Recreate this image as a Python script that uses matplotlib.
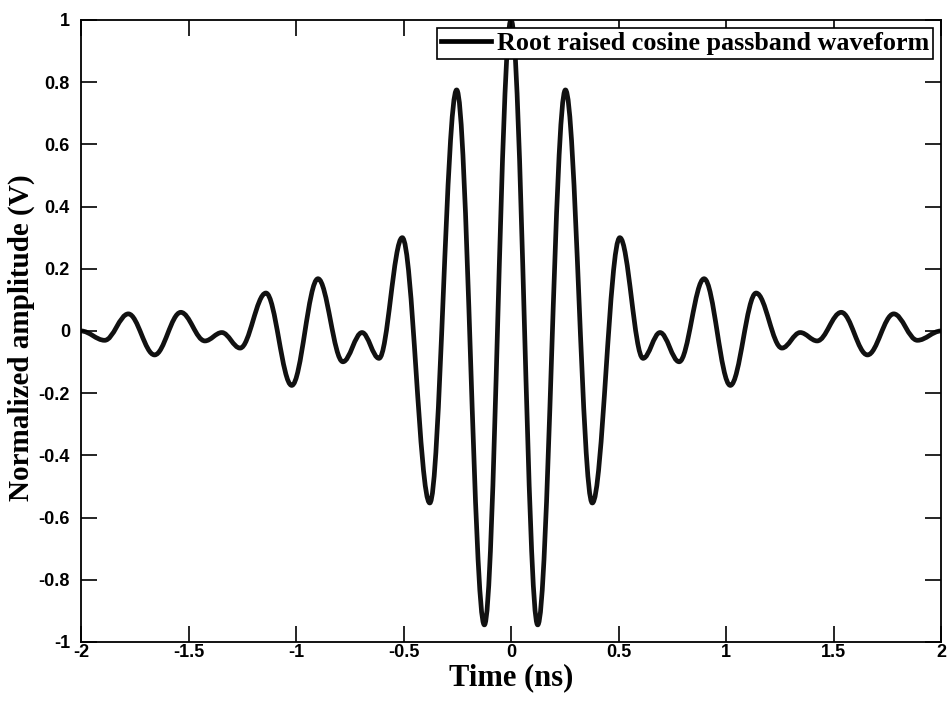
import matplotlib
matplotlib.use('Agg')
import matplotlib.pyplot as plt
from matplotlib.path import Path
from matplotlib.patches import PathPatch
from matplotlib.lines import Line2D

# extrema of the waveform (time in ns, amplitude in V)
peak_times = [-2.0, -1.89, -1.78, -1.658, -1.536, -1.424, -1.345, -1.26, -1.14, -1.02,
              -0.898, -0.782, -0.693, -0.614, -0.506, -0.378, -0.253, -0.124, 0.0,
              0.124, 0.253, 0.378, 0.506, 0.614, 0.693, 0.782, 0.898, 1.02, 1.14,
              1.26, 1.345, 1.424, 1.536, 1.658, 1.78, 1.89, 2.0]
peak_values = [0.0, -0.03, 0.055, -0.077, 0.06, -0.032, -0.005, -0.055, 0.122, -0.175,
               0.168, -0.099, -0.005, -0.088, 0.30, -0.553, 0.775, -0.945, 1.0,
               -0.945, 0.775, -0.553, 0.30, -0.088, -0.005, -0.099, 0.168, -0.175, 0.122,
               -0.055, -0.005, -0.032, 0.06, -0.077, 0.055, -0.03, 0.0]

x_ticks = [-2, -1.5, -1, -0.5, 0, 0.5, 1, 1.5, 2]
x_tick_labels = ['-2', '-1.5', '-1', '-0.5', '0', '0.5', '1', '1.5', '2']
y_ticks = [-1, -0.8, -0.6, -0.4, -0.2, 0, 0.2, 0.4, 0.6, 0.8, 1]
y_tick_labels = ['-1', '-0.8', '-0.6', '-0.4', '-0.2', '0', '0.2', '0.4', '0.6', '0.8', '1']

legend_label = 'Root raised cosine passband waveform'


def smooth_path(xs, ys, k=0.363):
    # cubic bezier between neighbouring extrema, flat tangent at each extremum
    verts = [(xs[0], ys[0])]
    codes = [Path.MOVETO]
    for i in range(len(xs) - 1):
        dx = xs[i + 1] - xs[i]
        verts += [(xs[i] + k * dx, ys[i]), (xs[i + 1] - k * dx, ys[i + 1]), (xs[i + 1], ys[i + 1])]
        codes += [Path.CURVE4] * 3
    return Path(verts, codes)


fig = plt.figure(figsize=(9.49, 7.13), dpi=100)
ax = fig.add_axes([0.0854, 0.0996, 0.9062, 0.8724])

ax.add_patch(PathPatch(smooth_path(peak_times, peak_values), facecolor='none',
                       edgecolor='#111111', linewidth=3.4, capstyle='round', joinstyle='round'))

ax.set_xlim(-2, 2)
ax.set_ylim(-1, 1)
ax.set_xticks(x_ticks)
ax.set_xticklabels(x_tick_labels)
ax.set_yticks(y_ticks)
ax.set_yticklabels(y_tick_labels)
ax.tick_params(direction='in', length=11.5, width=1.2, top=True, right=True)
ax.tick_params(axis='x', pad=1.5)
ax.tick_params(axis='y', pad=8)
for lbl in ax.get_xticklabels() + ax.get_yticklabels():
    lbl.set_fontfamily('Liberation Sans')
    lbl.set_fontweight('bold')
    lbl.set_fontsize(13)
for sp in ax.spines.values():
    sp.set_linewidth(1.3)

ax.set_xlabel('Time (ns)', fontfamily='Liberation Serif', fontweight='bold', fontsize=22)
ax.set_ylabel('Normalized amplitude (V)', fontfamily='Liberation Serif', fontweight='bold', fontsize=21)
ax.xaxis.set_label_coords(0.5, -0.034)
ax.yaxis.set_label_coords(-0.053, 0.49)

handle = Line2D([], [], color='black', linewidth=3.4)
leg = ax.legend([handle], [legend_label], loc='upper right', fancybox=False, framealpha=1,
                edgecolor='black', borderaxespad=0.3, handlelength=1.9, handletextpad=0.25,
                borderpad=0.15, prop={'family': 'Liberation Serif', 'weight': 'bold', 'size': 18.8})
leg.get_frame().set_linewidth(1.2)

fig.savefig('out.png', dpi=100)
